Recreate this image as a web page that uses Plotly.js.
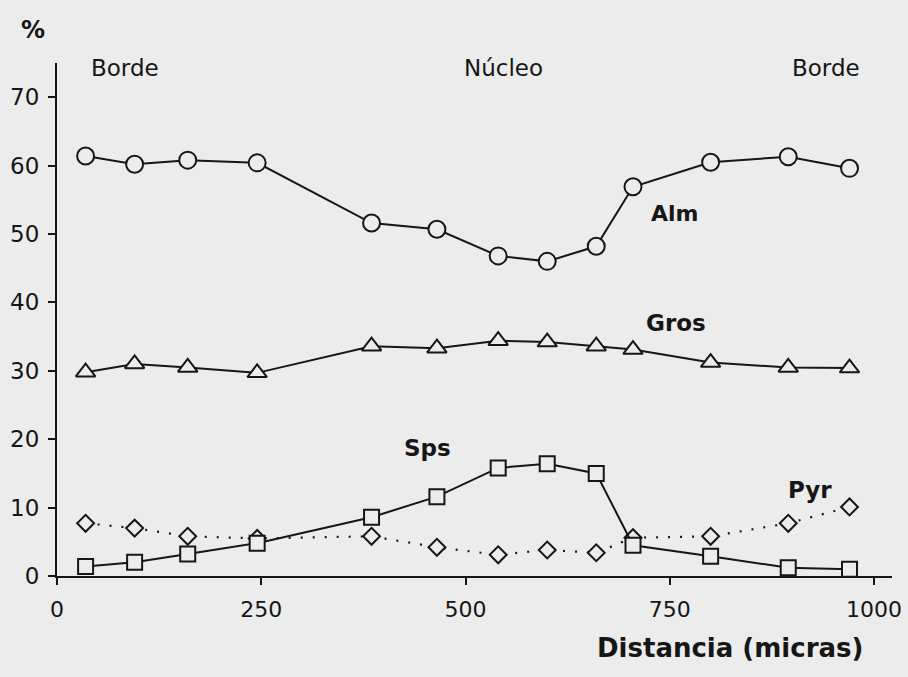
<!DOCTYPE html>
<html>
<head>
<meta charset="utf-8">
<script src="https://cdn.plot.ly/plotly-3.0.1.min.js"></script>
<style>
  html, body { margin: 0; padding: 0; background: #ececec; }
  #chart { width: 908px; height: 677px; }
</style>
</head>
<body>
<div id="chart"></div>
<script>
// Distance across the garnet grain (micras)
const distancia = [35, 95, 160, 245, 385, 465, 540, 600, 660, 705, 800, 895, 970];

// End-member percentages at each analysed point
const alm  = [61.4, 60.2, 60.8, 60.4, 51.6, 50.7, 46.8, 46.0, 48.2, 56.9, 60.5, 61.3, 59.6];
const gros = [29.8, 31.0, 30.5, 29.7, 33.6, 33.3, 34.4, 34.2, 33.6, 33.1, 31.2, 30.5, 30.4];
const sps  = [1.4, 2.0, 3.2, 4.8, 8.6, 11.6, 15.8, 16.4, 15.0, 4.5, 2.9, 1.2, 1.0];
const pyr  = [7.7, 7.0, 5.8, 5.5, 5.8, 4.2, 3.1, 3.8, 3.4, 5.6, 5.8, 7.7, 10.1];

const xTicks = [0, 250, 500, 750, 1000];
const yTicks = [0, 10, 20, 30, 40, 50, 60, 70];

const ink = '#161616';
const paper = '#ececec';
const font = 'DejaVu Sans, Verdana, sans-serif';

function serie(y, symbol, size, dash) {
  return {
    x: distancia, y: y, type: 'scatter', mode: 'lines+markers',
    line: { color: ink, width: dash ? 2.2 : 2, dash: dash || 'solid' },
    marker: { symbol: symbol, size: size, color: paper,
              line: { color: ink, width: 2 } },
    cliponaxis: false, showlegend: false, hoverinfo: 'skip'
  };
}

const data = [
  serie(pyr, 'diamond', 13, '2px,10px'),
  serie(sps, 'square', 15),
  serie(gros, 'triangle-up', 17),
  serie(alm, 'circle', 17)
];

// Labels placed in data coordinates (inside the plot)
function label(text, x, y, size, bold) {
  return {
    text: bold ? '<b>' + text + '</b>' : text,
    x: x, y: y, xref: 'x', yref: 'y', showarrow: false,
    font: { family: font, size: size, color: ink },
    xanchor: 'center', yanchor: 'middle'
  };
}

// Labels placed in paper coordinates (outside the plot)
function outer(text, x, y, size) {
  return {
    text: '<b>' + text + '</b>',
    x: x, y: y, xref: 'paper', yref: 'paper', showarrow: false,
    font: { family: font, size: size, color: ink },
    xanchor: 'center', yanchor: 'middle'
  };
}

const layout = {
  width: 908, height: 677,
  paper_bgcolor: paper, plot_bgcolor: paper,
  margin: { l: 57, r: 16, t: 63, b: 101 },
  showlegend: false,
  xaxis: {
    range: [0, 1022], tickvals: xTicks, ticktext: xTicks.map(String),
    ticks: 'outside', ticklen: 7, tickwidth: 2, tickcolor: ink,
    showline: true, linecolor: ink, linewidth: 2,
    showgrid: false, zeroline: false, ticklabelstandoff: 6,
    tickfont: { family: font, size: 22, color: ink }
  },
  yaxis: {
    range: [0, 75], tickvals: yTicks, ticktext: yTicks.map(String),
    ticks: 'outside', ticklen: 7, tickwidth: 2, tickcolor: ink,
    showline: true, linecolor: ink, linewidth: 2,
    showgrid: false, zeroline: false, ticklabelstandoff: 4,
    tickfont: { family: font, size: 23, color: ink }
  },
  annotations: [
    outer('%', -0.029, 1.064, 24),
    label('Borde', 83, 74.2, 23, false),
    label('Núcleo', 546, 74.2, 23, false),
    label('Borde', 941, 74.2, 23, false),
    label('Alm', 756, 53.0, 22, true),
    label('Gros', 758, 37.0, 23, true),
    label('Sps', 453, 18.7, 23, true),
    label('Pyr', 922, 12.6, 23, true),
    outer('Distancia (micras)', 0.806, -0.140, 26)
  ]
};

Plotly.newPlot('chart', data, layout, { staticPlot: true, displayModeBar: false });
</script>
</body>
</html>
